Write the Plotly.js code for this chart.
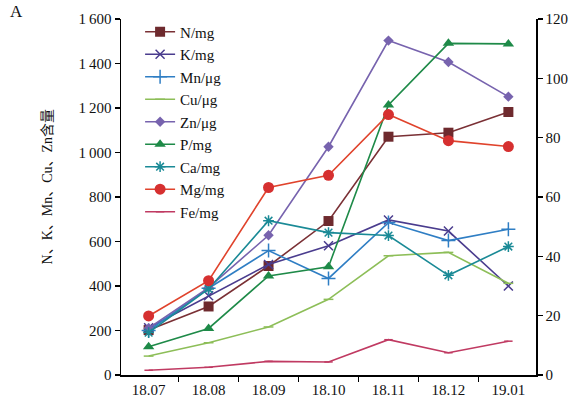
<!DOCTYPE html>
<html>
<head>
<meta charset="utf-8">
<script src="https://cdn.plot.ly/plotly-3.0.1.min.js"></script>
<style>html,body{margin:0;padding:0;background:#fff;}#chart{width:573px;height:405px;}</style>
</head>
<body>
<div id="chart"></div>
<script>
const months = ["18.07","18.08","18.09","18.10","18.11","18.12","19.01"];
// left axis (N, K, Mn, Cu, Zn)
const N  = [202, 308, 490, 692, 1071, 1089, 1182];
const K  = [212, 356, 497, 581, 697, 647, 400];
const Mn = [200, 390, 559, 434, 685, 604, 655];
const Cu = [85, 145, 216, 340, 536, 551, 412];
const Zn = [210, 393, 628, 1026, 1503, 1407, 1251];
// right axis (P, Ca, Mg, Fe)
const P  = [9.5, 15.7, 33.4, 36.5, 91, 111.8, 111.6];
const Ca = [14.3, 29, 52, 48, 47, 33.6, 43.3];
const Mg = [19.9, 31.8, 63.2, 67.3, 87.8, 79, 77];
const Fe = [1.6, 2.6, 4.6, 4.4, 11.9, 7.5, 11.4];

const leftTickVals = [0,200,400,600,800,1000,1200,1400,1600];
const leftTickText = ["0","200","400","600","800","1\u2009000","1\u2009200","1\u2009400","1\u2009600"];
const rightTickVals = [0,20,40,60,80,100,120];
const yTitle = "N、K、Mn、Cu、Zn含量";

const serif = "Liberation Serif, Times New Roman, Noto Sans CJK SC, serif";

function tr(name, y, axis, color, symbol, size, mcolor, open) {
  const marker = {symbol: symbol, size: size, color: mcolor || color};
  if (open) marker.line = {color: mcolor || color, width: 1.5};
  else marker.line = {width: 0};
  return {x: months, y: y, name: name, type: 'scatter', mode: 'lines+markers',
    yaxis: axis, line: {color: color, width: 1.6}, marker: marker};
}

const data = [
  tr("N/mg", N, 'y', '#7A3035', 'square', 10, '#6E2A2E'),
  tr("K/mg", K, 'y', '#4A3C8E', 'x-thin-open', 9, null, true),
  tr("Mn/μg", Mn, 'y', '#2F7EC4', 'cross-thin-open', 10, null, true),
  tr("Cu/μg", Cu, 'y', '#8DBE58', 'line-ew-open', 7, null, true),
  tr("Zn/μg", Zn, 'y', '#7763AE', 'diamond', 8),
  tr("P/mg", P, 'y2', '#1E8A48', 'triangle-up', 10),
  tr("Ca/mg", Ca, 'y2', '#1A8A96', 'asterisk-open', 9, null, true),
  tr("Mg/mg", Mg, 'y2', '#E0432C', 'circle', 11, '#D63030'),
  tr("Fe/mg", Fe, 'y2', '#C03A62', 'line-ew-open', 6, null, true)
];

const layout = {
  width: 573, height: 405,
  margin: {l: 121, r: 37, t: 19, b: 30},
  paper_bgcolor: '#fff', plot_bgcolor: '#fff',
  font: {family: serif, size: 15, color: '#111'},
  showlegend: true,
  legend: {x: 0.046, y: 1.01, xanchor: 'left', yanchor: 'top', bgcolor: 'rgba(0,0,0,0)',
    font: {family: serif, size: 15, color: '#111'}, tracegroupgap: 0, maxheight: 1},
  xaxis: {type: 'category', showline: true, linecolor: '#000', linewidth: 1.5,
    ticks: 'outside', tickson: 'boundaries', ticklen: 5, tickcolor: '#000', tickwidth: 1.2,
    showgrid: false, zeroline: false, tickfont: {family: serif, size: 15, color: '#111'}},
  yaxis: {range: [0, 1600], tickvals: leftTickVals, ticktext: leftTickText,
    showline: true, linecolor: '#000', linewidth: 1.5, ticks: 'outside', ticklen: 5,
    tickcolor: '#000', tickwidth: 1.2, showgrid: false, zeroline: false,
    tickfont: {family: serif, size: 15, color: '#111'}},
  yaxis2: {range: [0, 120], tickvals: rightTickVals, overlaying: 'y', side: 'right',
    showline: true, linecolor: '#000', linewidth: 1.5, ticks: 'outside', ticklen: 5,
    tickcolor: '#000', tickwidth: 1.2, showgrid: false, zeroline: false,
    tickfont: {family: serif, size: 15, color: '#111'}},
  annotations: [
    {text: "A", xref: 'paper', yref: 'paper', x: -0.272, y: 1.02, xanchor: 'left', yanchor: 'middle',
      showarrow: false, font: {family: serif, size: 17, color: '#111'}},
    {text: yTitle, xref: 'paper', yref: 'paper', x: -0.178, y: 0.53, textangle: -90,
      xanchor: 'center', yanchor: 'middle', showarrow: false,
      font: {family: serif, size: 14, color: '#111'}}
  ]
};

Plotly.newPlot('chart', data, layout, {displayModeBar: false, staticPlot: true});
</script>
</body>
</html>
